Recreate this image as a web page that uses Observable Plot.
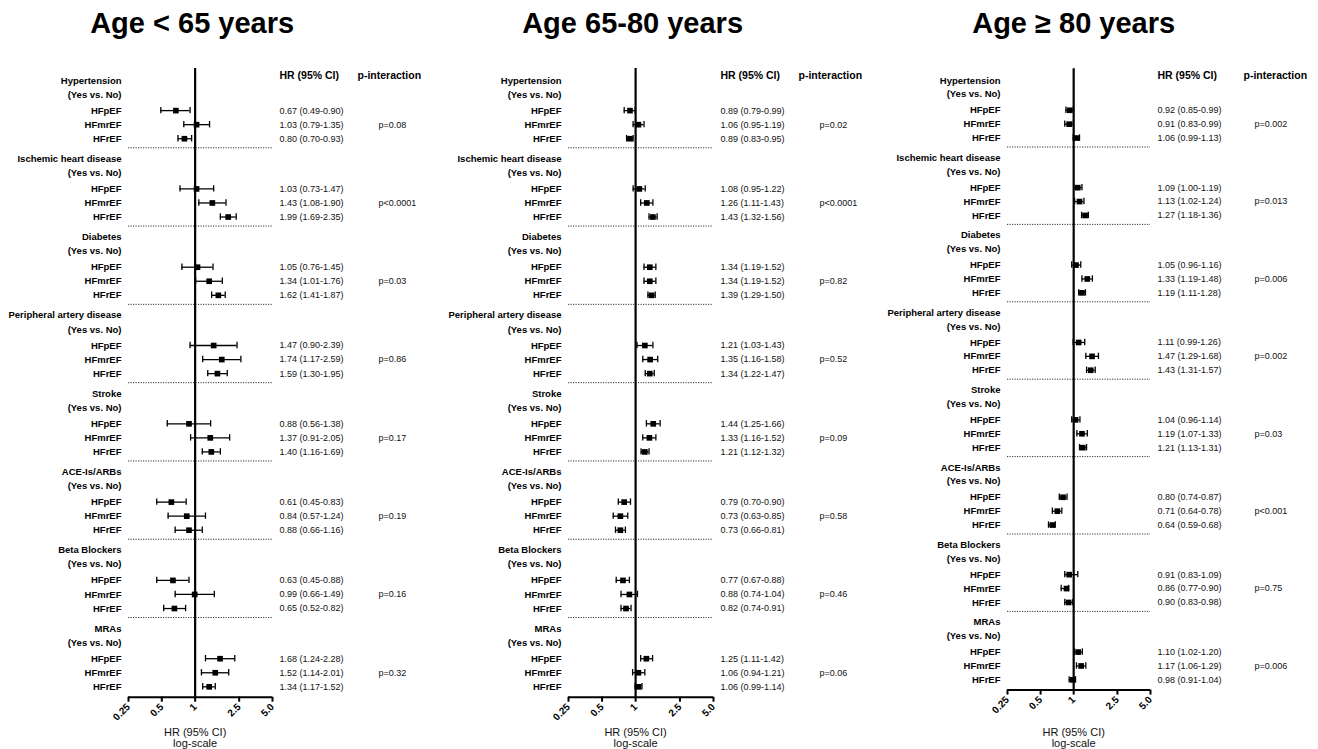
<!DOCTYPE html>
<html><head><meta charset="utf-8">
<script src="https://cdn.jsdelivr.net/npm/d3@7"></script>
<script src="https://cdn.jsdelivr.net/npm/@observablehq/plot@0.6"></script>
<style>
html,body{margin:0;padding:0;background:#fff;}
#fig{position:relative;width:1318px;height:749px;overflow:hidden;}
#fig > svg{position:absolute;top:0;}
</style></head><body><div id="fig"></div>
<script>
// ---------- data ----------
const titles = ["Age < 65 years", "Age 65-80 years", "Age \u2265 80 years"];
const groups = ["Hypertension", "Ischemic heart disease", "Diabetes", "Peripheral artery disease",
                "Stroke", "ACE-Is/ARBs", "Beta Blockers", "MRAs"];
const comparison = "(Yes vs. No)";
const subtypes = ["HFpEF", "HFmrEF", "HFrEF"];
const tickValues = [0.25, 0.5, 1, 2.5, 5];
const tickLabels = ["0.25", "0.5", "1", "2.5", "5.0"];

// Age < 65
const est65 = [0.67,1.03,0.80, 1.03,1.43,1.99, 1.05,1.34,1.62, 1.47,1.74,1.59, 0.88,1.37,1.40, 0.61,0.84,0.88, 0.63,0.99,0.65, 1.68,1.52,1.34];
const lo65  = [0.49,0.79,0.70, 0.73,1.08,1.69, 0.76,1.01,1.41, 0.90,1.17,1.30, 0.56,0.91,1.16, 0.45,0.57,0.66, 0.45,0.66,0.52, 1.24,1.14,1.17];
const hi65  = [0.90,1.35,0.93, 1.47,1.90,2.35, 1.45,1.76,1.87, 2.39,2.59,1.95, 1.38,2.05,1.69, 0.83,1.24,1.16, 0.88,1.49,0.82, 2.28,2.01,1.52];
const p65   = ["p=0.08","p<0.0001","p=0.03","p=0.86","p=0.17","p=0.19","p=0.16","p=0.32"];

// Age 65-80
const est6580 = [0.89,1.06,0.89, 1.08,1.26,1.43, 1.34,1.34,1.39, 1.21,1.35,1.34, 1.44,1.33,1.21, 0.79,0.73,0.73, 0.77,0.88,0.82, 1.25,1.06,1.06];
const lo6580  = [0.79,0.95,0.83, 0.95,1.11,1.32, 1.19,1.19,1.29, 1.03,1.16,1.22, 1.25,1.16,1.12, 0.70,0.63,0.66, 0.67,0.74,0.74, 1.11,0.94,0.99];
const hi6580  = [0.99,1.19,0.95, 1.22,1.43,1.56, 1.52,1.52,1.50, 1.43,1.58,1.47, 1.66,1.52,1.32, 0.90,0.85,0.81, 0.88,1.04,0.91, 1.42,1.21,1.14];
const p6580   = ["p=0.02","p<0.0001","p=0.82","p=0.52","p=0.09","p=0.58","p=0.46","p=0.06"];

// Age >= 80
const est80 = [0.92,0.91,1.06, 1.09,1.13,1.27, 1.05,1.33,1.19, 1.11,1.47,1.43, 1.04,1.19,1.21, 0.80,0.71,0.64, 0.91,0.86,0.90, 1.10,1.17,0.98];
const lo80  = [0.85,0.83,0.99, 1.00,1.02,1.18, 0.96,1.19,1.11, 0.99,1.29,1.31, 0.96,1.07,1.13, 0.74,0.64,0.59, 0.83,0.77,0.83, 1.02,1.06,0.91];
const hi80  = [0.99,0.99,1.13, 1.19,1.24,1.36, 1.16,1.48,1.28, 1.26,1.68,1.57, 1.14,1.33,1.31, 0.87,0.78,0.68, 1.09,0.90,0.98, 1.20,1.29,1.04];
const p80   = ["p=0.002","p=0.013","p=0.006","p=0.002","p=0.03","p<0.001","p=0.75","p=0.006"];

// ---------- layout ----------
const FONT = "'Liberation Sans', Arial, Helvetica, sans-serif";
const panels = [
  {title: titles[0], est: est65,   lo: lo65,   hi: hi65,   p: p65,   left: 0,   width: 440, mL: 128, mR: 168, gs: 78.3, pDx: 106, pHeadDx: 85, titleDx: -3},
  {title: titles[1], est: est6580, lo: lo6580, hi: hi6580, p: p6580, left: 440, width: 440, mL: 128, mR: 167, gs: 78.3, pDx: 106, pHeadDx: 85, titleDx: -3},
  {title: titles[2], est: est80,   lo: lo80,   hi: hi80,   p: p80,   left: 880, width: 438, mL: 127, mR: 168, gs: 77.4, pDx: 104, pHeadDx: 93, titleDx: 0}
];
const TOP = 80;          // centre of first group label
const AX = 7.876;        // axis position in group units
const LINE_TOP = -0.153; // top of reference line in group units
const OFF_COMP = 14 / 78, OFF_ROW = [30 / 78, 44 / 78, 58 / 78], OFF_SEP = 67 / 78;
const fmt = v => v.toFixed(2);

const fig = document.getElementById("fig");

panels.forEach(P => {
  const rows = [];
  const labels = [];
  groups.forEach((g, gi) => {
    labels.push({y: gi, text: g});
    labels.push({y: gi + OFF_COMP, text: comparison});
    subtypes.forEach((s, si) => {
      const i = gi * 3 + si;
      rows.push({y: gi + OFF_ROW[si], sub: s, est: P.est[i], lo: P.lo[i], hi: P.hi[i]});
      labels.push({y: gi + OFF_ROW[si], text: s});
    });
  });
  const pRows = P.p.map((t, gi) => ({y: gi + OFF_ROW[1], text: t}));
  const seps = d3.range(groups.length - 1).map(gi => gi + OFF_SEP);
  const cap = 3.2 / P.gs;
  const axisPix = TOP + AX * P.gs;

  const chart = Plot.plot({
    width: P.width,
    height: 749,
    marginTop: TOP + LINE_TOP * P.gs,
    marginBottom: 749 - axisPix,
    marginLeft: P.mL,
    marginRight: P.mR,
    style: {fontFamily: FONT, background: "transparent", color: "#000", overflow: "visible"},
    x: {type: "log", domain: [0.25, 5], axis: null},
    y: {domain: [0, 8], range: [TOP, TOP + 8 * P.gs], axis: null},
    marks: [
      Plot.ruleY(seps, {stroke: "#333", strokeWidth: 1, strokeDasharray: "1.2,1.3"}),
      Plot.ruleX([1], {y1: LINE_TOP, y2: AX, stroke: "#000", strokeWidth: 2.2}),
      Plot.ruleY([AX], {stroke: "#000", strokeWidth: 2}),
      Plot.axisX({
        ticks: tickValues, tickFormat: d => tickLabels[tickValues.indexOf(d)],
        tickRotate: -45, tickSize: 5, tickPadding: 3, strokeWidth: 2,
        fontWeight: "bold", fontSize: 10, textAnchor: "end", label: null
      }),
      Plot.ruleY(rows, {y: "y", x1: "lo", x2: "hi", stroke: "#000", strokeWidth: 1.3}),
      Plot.ruleX(rows, {x: "lo", y1: d => d.y - cap, y2: d => d.y + cap, stroke: "#000", strokeWidth: 1.3}),
      Plot.ruleX(rows, {x: "hi", y1: d => d.y - cap, y2: d => d.y + cap, stroke: "#000", strokeWidth: 1.3}),
      Plot.dot(rows, {x: "est", y: "y", symbol: "square", r: 3.2, fill: "#000", stroke: null}),
      Plot.text(labels, {y: "y", text: "text", frameAnchor: "left", dx: -7, textAnchor: "end",
                         fontWeight: "bold", fontSize: 9.5, fill: "#000"}),
      Plot.text(rows, {y: "y", text: d => `${fmt(d.est)} (${fmt(d.lo)}-${fmt(d.hi)})`,
                       frameAnchor: "right", dx: 7, textAnchor: "start", fontSize: 9, fill: "#111"}),
      Plot.text(pRows, {y: "y", text: "text", frameAnchor: "right", dx: P.pDx, textAnchor: "start",
                        fontSize: 9, fill: "#111"}),
      Plot.text(["HR (95% CI)"], {y: -5 / P.gs, frameAnchor: "right", dx: 7, textAnchor: "start",
                                  fontWeight: "bold", fontSize: 10.5, fill: "#000"}),
      Plot.text(["p-interaction"], {y: -5 / P.gs, frameAnchor: "right", dx: P.pHeadDx, textAnchor: "start",
                                    fontWeight: "bold", fontSize: 10.5, fill: "#000"}),
      Plot.text([P.title], {x: 1, y: (23 - TOP) / P.gs, dx: P.titleDx, fontWeight: "bold", fontSize: 29, fill: "#000"}),
      Plot.text(["HR (95% CI)"], {x: 1, frameAnchor: "bottom", dy: 735 - axisPix, fontSize: 11, fill: "#111"}),
      Plot.text(["log-scale"], {x: 1, frameAnchor: "bottom", dy: 746 - axisPix, fontSize: 11, fill: "#111"})
    ]
  });
  chart.style.left = P.left + "px";
  fig.appendChild(chart);
});
</script>
</body></html>
